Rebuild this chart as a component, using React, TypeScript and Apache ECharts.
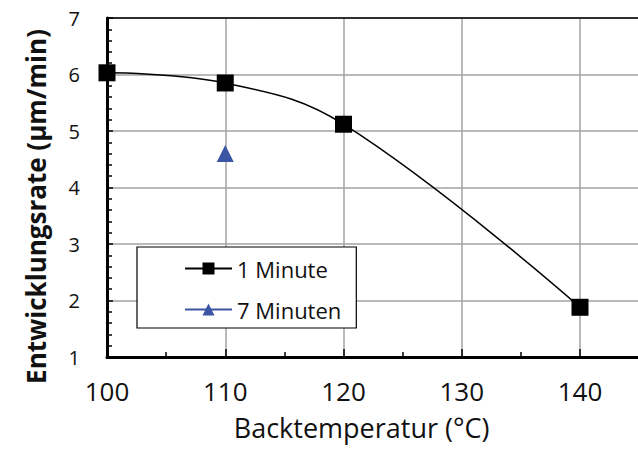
import React, { useEffect, useRef } from "react";
import * as echarts from "echarts";

const temps1 = [100, 110, 120, 140];
const rate1 = [6.03, 5.85, 5.12, 1.88];
const temps7 = [110];
const rate7 = [4.6];
const seriesNames = ["1 Minute", "7 Minuten"];
const xTitle = "Backtemperatur (°C)";
const yTitle = "Entwicklungsrate (µm/min)";

const FONT = "'Open Sans', sans-serif";

export default function App() {
  const ref = useRef<HTMLDivElement>(null);
  useEffect(() => {
    if (!ref.current) return;
    const chart = echarts.init(ref.current, undefined, { renderer: "svg" });
    const d1 = temps1.map((t, i) => [t, rate1[i]]);
    const d7 = temps7.map((t, i) => [t, rate7[i]]);
    chart.setOption({
      animation: false,
      backgroundColor: "#ffffff",
      textStyle: { fontFamily: FONT },
      grid: { left: 107, top: 18, width: 591.25, height: 339, containLabel: false, outerBoundsMode: "none" },
      xAxis: [
        {
          type: "value",
          min: 100,
          max: 150,
          interval: 10,
          name: xTitle,
          nameLocation: "middle",
          nameGap: 57,
          nameTextStyle: { fontFamily: FONT, fontSize: 27, color: "#111", padding: [0, 82, 0, 0] },
          nameMoveOverlap: false,
          axisLine: { show: true, onZero: false, lineStyle: { color: "#000", width: 3 } },
          axisTick: { show: true, inside: true, length: 8, lineStyle: { color: "#000", width: 1.5 } },
          minorTick: { show: true, splitNumber: 2, length: 5, lineStyle: { color: "#000", width: 1.5 } },
          axisLabel: { fontFamily: FONT, fontSize: 26, color: "#111", margin: 21, showMaxLabel: false },
          splitLine: { show: true, lineStyle: { color: "#a3a3a3", width: 1.5 } },
        },
        {
          type: "value",
          position: "top",
          min: 100,
          max: 150,
          axisLine: { show: true, onZero: false, lineStyle: { color: "#000", width: 1.5 } },
          axisTick: { show: false },
          axisLabel: { show: false },
          splitLine: { show: false },
        },
      ],
      yAxis: {
        type: "value",
        min: 1,
        max: 7,
        interval: 1,
        name: yTitle,
        nameLocation: "middle",
        nameGap: 58,
        nameTextStyle: { fontFamily: FONT, fontSize: 26, fontWeight: "bold", color: "#111", padding: [0, 38, 0, 0] },
        axisLine: { show: true, onZero: false, lineStyle: { color: "#000", width: 3 } },
        axisTick: { show: true, inside: true, length: 6, lineStyle: { color: "#000", width: 1.5 } },
        minorTick: { show: true, splitNumber: 5, length: 5, lineStyle: { color: "#000", width: 1.5 } },
        axisLabel: { fontFamily: FONT, fontSize: 20, color: "#111", margin: 27 },
        splitLine: { show: true, lineStyle: { color: "#a3a3a3", width: 1.5 } },
      },
      legend: {
        show: true,
        orient: "vertical",
        left: 137,
        top: 247,
        padding: [10, 15, 7, 47],
        itemWidth: 47,
        itemHeight: 15,
        itemGap: 18,
        backgroundColor: "#ffffff",
        borderColor: "#000",
        borderWidth: 1.2,
        borderRadius: 0,
        textStyle: { fontFamily: FONT, fontSize: 22, color: "#111", lineHeight: 23 },
        data: seriesNames,
      },
      series: [
        {
          name: seriesNames[0],
          type: "line",
          data: d1,
          smooth: 0.4,
          symbol: "rect",
          symbolSize: 17,
          itemStyle: { color: "#000" },
          lineStyle: { color: "#000", width: 1.5 },
          clip: false,
          z: 5,
        },
        {
          name: seriesNames[1],
          type: "line",
          data: d7,
          symbol: "triangle",
          symbolSize: 17,
          itemStyle: { color: "#3b54a3" },
          lineStyle: { color: "#3b54a3", width: 1.5 },
          clip: false,
          z: 5,
        },
      ],
    });
    return () => chart.dispose();
  }, []);
  return (
    <div style={{ position: "fixed", left: 0, top: 0, width: 638, height: 450, overflow: "hidden", background: "#fff" }}>
      <div ref={ref} style={{ width: 720, height: 450, background: "#fff" }} />
    </div>
  );
}
